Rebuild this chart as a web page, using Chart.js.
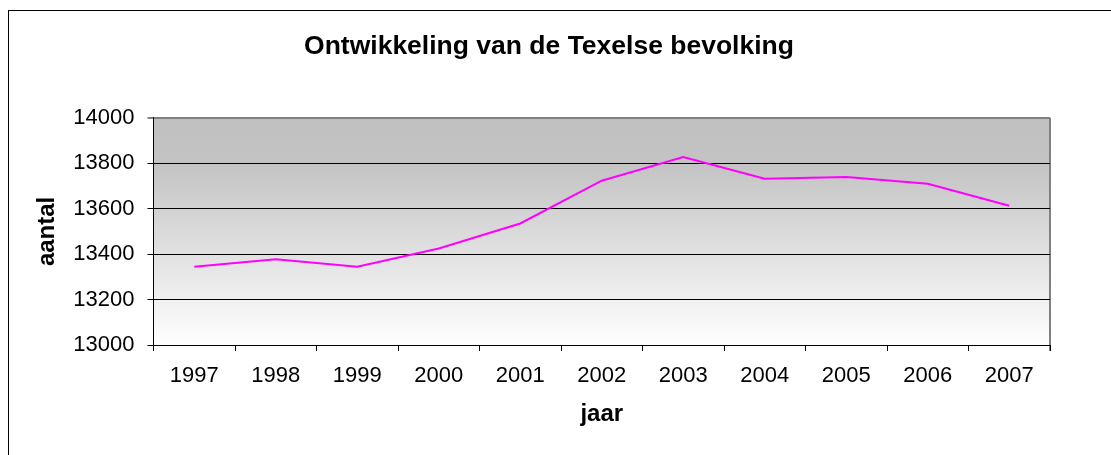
<!DOCTYPE html>
<html>
<head>
<meta charset="utf-8">
<script src="https://cdn.jsdelivr.net/npm/chart.js@4"></script>
<style>
  html, body { margin: 0; padding: 0; background: #fff; overflow: hidden; }
  #wrap { position: relative; width: 1111px; height: 455px; overflow: hidden; }
  #frame {
    position: absolute; left: 8px; top: 10px; width: 1200px; height: 600px;
    border: 1px solid #000; pointer-events: none;
  }
  canvas { position: absolute; left: 0; top: 0; }
</style>
</head>
<body>
<div id="wrap">
  <canvas id="chart" width="1111" height="455"></canvas>
  <div id="frame"></div>
</div>
<script>
const years = ["1997", "1998", "1999", "2000", "2001", "2002", "2003", "2004", "2005", "2006", "2007"];
const population = [13344, 13377, 13344, 13425, 13535, 13723, 13827, 13732, 13739, 13710, 13613];
const yMin = 13000;
const yMax = 14000;
const yStep = 200;

const font = "'Liberation Sans', Arial, sans-serif";

// plot area background (grey to white) + grey right border
const plotBackground = {
  id: 'plotBackground',
  beforeDraw(chart) {
    const { ctx, chartArea: a } = chart;
    const g = ctx.createLinearGradient(0, a.top, 0, a.bottom);
    g.addColorStop(0, '#c0c0c0');
    g.addColorStop(0.2, '#c3c3c3');
    g.addColorStop(1, '#ffffff');
    ctx.save();
    ctx.fillStyle = g;
    ctx.fillRect(a.left, a.top, a.right - a.left, a.bottom - a.top);
    ctx.strokeStyle = '#808080';
    ctx.lineWidth = 2;
    ctx.beginPath();
    ctx.moveTo(a.right, a.top);
    ctx.lineTo(a.right, a.bottom + 6);
    ctx.stroke();
    ctx.restore();
  }
};

new Chart(document.getElementById("chart").getContext('2d'), {
  type: 'line',
  data: {
    labels: years,
    datasets: [{
      label: "aantal",
      data: population,
      borderColor: "#ff00ff",
      borderWidth: 2,
      pointRadius: 0,
      tension: 0,
      fill: false
    }]
  },
  options: {
    responsive: false,
    animation: false,
    devicePixelRatio: 1,
    layout: { padding: { left: 48, right: 61, top: 0, bottom: 26 } },
    plugins: {
      legend: { display: false },
      tooltip: { enabled: false },
      title: {
        display: true,
        text: "Ontwikkeling van de Texelse bevolking",
        color: '#000',
        font: { family: font, size: 26.5, weight: 'bold' },
        padding: { top: 31, bottom: 55 }
      }
    },
    scales: {
      x: {
        type: 'category',
        offset: true,
        afterFit(scale) { scale.height = 84; },
        grid: {
          offset: true,
          drawOnChartArea: false,
          drawTicks: true,
          tickLength: 6,
          color: '#000'
        },
        border: { color: '#000', width: 1 },
        ticks: {
          color: '#000',
          font: { family: font, size: 22 },
          padding: 12,
          maxRotation: 0,
          autoSkip: false
        },
        title: {
          display: true,
          text: "jaar",
          color: '#000',
          font: { family: font, size: 24, weight: 'bold' },
          padding: { top: 0, bottom: 0 }
        }
      },
      y: {
        min: yMin,
        max: yMax,
        afterFit(scale) { scale.width = 105.5; },
        grid: {
          color: ctx => (ctx.tick && ctx.tick.value === yMax) ? '#808080' : '#000',
          lineWidth: ctx => (ctx.tick && ctx.tick.value === yMax) ? 2 : 1,
          tickLength: 6
        },
        border: { color: '#000', width: 1 },
        ticks: {
          stepSize: yStep,
          color: '#000',
          font: { family: font, size: 22 },
          padding: 13,
          callback: v => String(v)
        },
        title: {
          display: true,
          text: "aantal",
          color: '#000',
          font: { family: font, size: 24, weight: 'bold' },
          padding: { top: -15.4, bottom: 0 }
        }
      }
    }
  },
  plugins: [plotBackground]
});
</script>
</body>
</html>
